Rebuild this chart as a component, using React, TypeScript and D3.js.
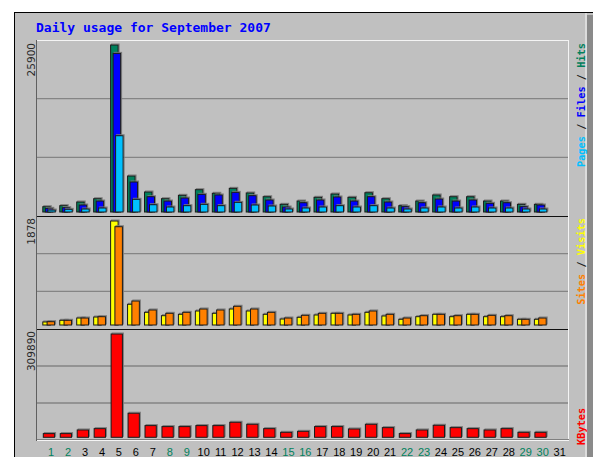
import React, { useEffect, useRef } from 'react';
import * as d3 from 'd3';

// daily values, September 2007
const days = d3.range(1, 32);
const weekendDays = [1, 2, 8, 9, 15, 16, 22, 23, 29, 30];
const hits = [820, 980, 1550, 2060, 25900, 5580, 3100, 2060, 2590, 3460, 2900, 3670, 2950, 2370, 1190, 1700, 2280, 2790, 2280, 2990, 2060, 980, 1700, 2640, 2370, 2370, 1700, 1700, 1190, 1190, 0];
const files = [570, 670, 1085, 1700, 24600, 4650, 2370, 1700, 2170, 2740, 2640, 3050, 2530, 1860, 775, 1440, 1860, 2330, 1700, 2370, 1550, 820, 1440, 2010, 1700, 1860, 1350, 1440, 820, 1085, 0];
const pages = [300, 420, 465, 620, 11830, 1970, 1130, 775, 980, 1190, 980, 1500, 1085, 930, 465, 620, 775, 980, 775, 980, 620, 465, 620, 775, 620, 775, 620, 620, 465, 465, 0];
const visits = [55, 85, 126, 144, 1878, 374, 229, 168, 193, 253, 211, 289, 253, 193, 108, 139, 181, 211, 181, 229, 163, 103, 150, 193, 150, 193, 150, 150, 103, 103, 0];
const sites = [60, 85, 126, 150, 1775, 433, 271, 211, 229, 289, 271, 338, 289, 229, 126, 175, 211, 211, 193, 253, 193, 126, 168, 193, 168, 193, 175, 168, 103, 126, 0];
const kbytes = [11100, 11100, 22000, 26000, 309890, 72200, 35100, 32100, 32100, 35100, 35100, 45100, 39100, 26000, 15000, 18000, 32100, 32100, 25000, 39100, 29000, 11100, 22000, 36100, 29000, 26000, 22000, 26000, 15000, 15000, 0];
const maxLabels = ['25900', '1878', '309890'];
const title = 'Daily usage for September 2007';

const App = () => {
  const ref = useRef<SVGSVGElement>(null);

  useEffect(() => {
    const svg = d3.select(ref.current);
    svg.selectAll('*').remove();

    const W = 593;
    const H = 457;
    const left = 37;
    const right = 568;
    // panel tops / bottoms
    const panels = [
      { top: 40, bottom: 216 },
      { top: 216, bottom: 329 },
      { top: 329, bottom: 440 },
    ];

    // background frame
    svg.append('rect').attr('width', W).attr('height', H).attr('fill', 'white');
    svg.append('rect')
      .attr('x', 14.5).attr('y', 12.5)
      .attr('width', 580).attr('height', 460)
      .attr('fill', '#c0c0c0').attr('stroke', 'black');
    svg.append('rect').attr('x', 585).attr('y', 13).attr('width', 2).attr('height', 450).attr('fill', '#dcdcdc');
    svg.append('rect').attr('x', 587).attr('y', 15).attr('width', 6).attr('height', 450).attr('fill', '#8a8a8a');

    svg.append('text')
      .attr('x', 36).attr('y', 32)
      .attr('font-family', 'DejaVu Sans Mono')
      .attr('font-weight', 'bold')
      .attr('font-size', 13)
      .attr('fill', '#0000ff')
      .text(title);

    const x = d3.scaleBand<number>().domain(days).range([42.3, 567.8]).padding(0);

    // gridlines: thirds of each panel
    panels.forEach((p) => {
      [1, 2].forEach((k) => {
        const gy = p.top + ((p.bottom - p.top) * k) / 3;
        svg.append('line')
          .attr('x1', left).attr('x2', right)
          .attr('y1', gy).attr('y2', gy)
          .attr('stroke', '#858585').attr('stroke-width', 1.3);
      });
    });

    // plot frame
    svg.append('line').attr('x1', left - 0.5).attr('x2', left - 0.5).attr('y1', 40).attr('y2', 441).attr('stroke', '#606060');
    svg.append('line').attr('x1', left).attr('x2', right + 1).attr('y1', 40.5).attr('y2', 40.5).attr('stroke', '#f4f4f4');
    svg.append('line').attr('x1', right + 0.5).attr('x2', right + 0.5).attr('y1', 40).attr('y2', 441).attr('stroke', '#f4f4f4');
    svg.append('line').attr('x1', left).attr('x2', right + 1).attr('y1', 439.5).attr('y2', 439.5).attr('stroke', '#808080');
    svg.append('line').attr('x1', left).attr('x2', right + 1).attr('y1', 440.5).attr('y2', 440.5).attr('stroke', '#f4f4f4');
    [216.5, 329.5].forEach((sy) => {
      svg.append('line').attr('x1', left).attr('x2', right).attr('y1', sy).attr('y2', sy).attr('stroke', '#101010');
    });

    const yTop = d3.scaleLinear().domain([0, 25900]).range([212, 45]);
    const yMid = d3.scaleLinear().domain([0, 1878]).range([325, 221]);
    const yBot = d3.scaleLinear().domain([0, 309890]).range([437.3, 334]);

    const drawBars = (
      values: number[],
      y: d3.ScaleLinear<number, number>,
      offset: number,
      width: number,
      color: string
    ) => {
      const g = svg.append('g');
      const data = days.map((d, i) => ({ d, v: values[i] })).filter((e) => e.v > 0);
      g.selectAll('.shadow')
        .data(data)
        .enter()
        .append('rect')
        .attr('x', (e) => (x(e.d) as number) + offset + 1)
        .attr('y', (e) => y(e.v) - 1)
        .attr('width', width)
        .attr('height', (e) => y(0) - y(e.v))
        .attr('fill', 'none')
        .attr('stroke', '#7a7a7a');
      g.selectAll('.bar')
        .data(data)
        .enter()
        .append('rect')
        .attr('x', (e) => (x(e.d) as number) + offset)
        .attr('y', (e) => y(e.v))
        .attr('width', width)
        .attr('height', (e) => y(0) - y(e.v))
        .attr('fill', color)
        .attr('stroke', '#1a1a1a');
    };

    drawBars(hits, yTop, 0.5, 7.5, '#00805c');
    drawBars(files, yTop, 3, 7.5, '#0000ff');
    drawBars(pages, yTop, 5.5, 7.5, '#00c0ff');
    drawBars(visits, yMid, 0.5, 7.5, '#ffff00');
    drawBars(sites, yMid, 4.8, 7.5, '#ff8000');
    drawBars(kbytes, yBot, 1, 11.3, '#ff0000');

    // max value labels, rotated
    maxLabels.forEach((lab, i) => {
      const ty = panels[i].top + (i === 0 ? 3 : 2);
      svg.append('text')
        .attr('transform', `translate(35,${ty}) rotate(-90)`)
        .attr('text-anchor', 'end')
        .attr('font-family', 'DejaVu Sans')
        .attr('font-size', 10.5)
        .attr('fill', '#2a2a2a')
        .text(lab);
    });

    // right side legends
    const legend = (
      parts: { t: string; c: string }[],
      ty: number,
      anchor: string
    ) => {
      const t = svg.append('text')
        .attr('transform', `translate(585,${ty}) rotate(-90)`)
        .attr('text-anchor', anchor)
        .attr('font-family', 'DejaVu Sans Mono')
        .attr('font-weight', 'bold')
        .attr('font-size', 10.3);
      parts.forEach((p) => t.append('tspan').attr('fill', p.c).text(p.t));
    };
    legend(
      [
        { t: 'Pages', c: '#00c0ff' },
        { t: ' / ', c: '#202020' },
        { t: 'Files', c: '#0000ff' },
        { t: ' / ', c: '#202020' },
        { t: 'Hits', c: '#00805c' },
      ],
      43,
      'end'
    );
    legend(
      [
        { t: 'Sites', c: '#ff8000' },
        { t: ' / ', c: '#202020' },
        { t: 'Visits', c: '#ffff00' },
      ],
      218,
      'end'
    );
    legend([{ t: 'KBytes', c: '#ff0000' }], 445, 'start');

    // day labels
    svg.append('g')
      .selectAll('text')
      .data(days)
      .enter()
      .append('text')
      .attr('x', (d) => (x(d) as number) + 8.8)
      .attr('y', 455.5)
      .attr('text-anchor', 'middle')
      .attr('font-family', 'Liberation Sans')
      .attr('font-size', 11)
      .attr('fill', (d) => (weekendDays.includes(d) ? '#00805c' : '#000000'))
      .text((d) => d);
  }, []);

  return (
    <svg
      ref={ref}
      width={593}
      height={457}
      style={{ position: 'absolute', left: 0, top: 0 }}
    />
  );
};

export default App;
